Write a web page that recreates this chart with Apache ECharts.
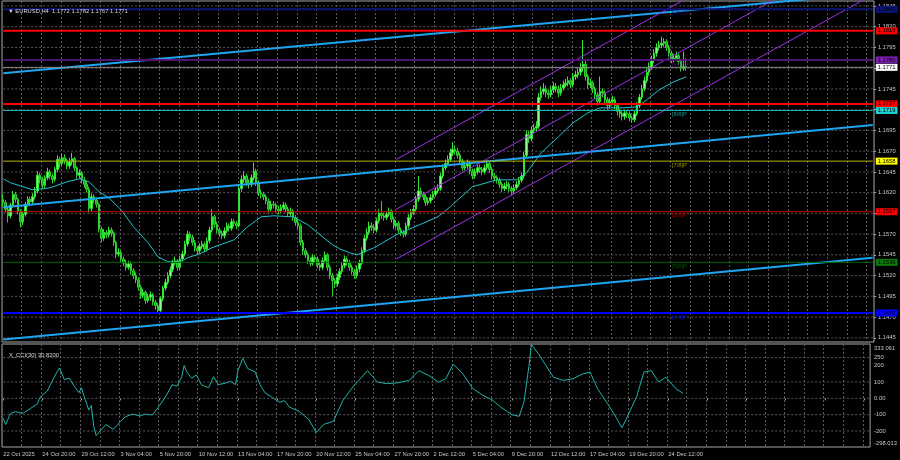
<!DOCTYPE html>
<html><head><meta charset="utf-8">
<script src="https://cdn.jsdelivr.net/npm/echarts@6/dist/echarts.min.js"></script>
<style>html,body{margin:0;padding:0;background:#000}#c{width:900px;height:460px}</style>
</head><body><div id="c"></div>
<script>
// ---------- DATA ----------
const chartTitle = '\u25BC EURUSD,H4  1.1772 1.1782 1.1767 1.1771';
const cciTitle = 'X_CCI(30) 30.8200';

const xTickLabels = ['22 Oct 2025','24 Oct 20:00','29 Oct 12:00','3 Nov 04:00','5 Nov 20:00','10 Nov 12:00',
  '13 Nov 04:00','17 Nov 20:00','20 Nov 12:00','25 Nov 04:00','27 Nov 20:00','2 Dec 12:00',
  '5 Dec 04:00','9 Dec 20:00','12 Dec 12:00','17 Dec 04:00','19 Dec 20:00','24 Dec 12:00'];
const barsPerLabel = 16;
const totalSlots = 355;

const priceTicks = [1.1445,1.1470,1.1495,1.1520,1.1545,1.1570,1.1595,1.1620,1.1645,1.1670,1.1695,1.1720,1.1745,1.1770,1.1795,1.1820,1.1845];
const cciTicks = [333.061,250,200,100,0,-100,-200,-298.013];
const cciGridLevels = [250,100,0,-100,-200];

const opens = [
1.1612,1.1608,1.1600,1.1592,1.1605,1.1618,1.1612,1.1598,1.1585,1.1594,
1.1606,1.1612,1.1609,1.1615,1.1622,1.1641,1.1636,1.1629,1.1638,1.1645,
1.1640,1.1636,1.1648,1.1660,1.1655,1.1662,1.1658,1.1652,1.1657,1.1661,
1.1650,1.1641,1.1644,1.1635,1.1630,1.1624,1.1601,1.1615,1.1611,1.1606,
1.1576,1.1565,1.1572,1.1569,1.1575,1.1571,1.1560,1.1546,1.1548,1.1540,
1.1535,1.1530,1.1534,1.1526,1.1520,1.1515,1.1506,1.1496,1.1500,1.1490,
1.1494,1.1497,1.1488,1.1484,1.1478,1.1492,1.1505,1.1512,1.1520,1.1527,
1.1535,1.1538,1.1530,1.1540,1.1546,1.1558,1.1570,1.1566,1.1560,1.1553,
1.1550,1.1555,1.1558,1.1552,1.1562,1.1575,1.1591,1.1582,1.1575,1.1571,
1.1568,1.1574,1.1580,1.1577,1.1585,1.1583,1.1580,1.1625,1.1636,1.1640,
1.1632,1.1630,1.1638,1.1646,1.1632,1.1620,1.1618,1.1615,1.1610,1.1600,
1.1606,1.1605,1.1600,1.1598,1.1602,1.1605,1.1600,1.1595,1.1598,1.1590,
1.1584,1.1580,1.1560,1.1550,1.1545,1.1538,1.1535,1.1542,1.1540,1.1533,
1.1530,1.1538,1.1545,1.1530,1.1520,1.1514,1.1510,1.1518,1.1525,1.1532,
1.1540,1.1536,1.1530,1.1525,1.1520,1.1528,1.1535,1.1550,1.1565,1.1572,
1.1580,1.1578,1.1575,1.1586,1.1595,1.1592,1.1590,1.1594,1.1598,1.1588,
1.1580,1.1583,1.1575,1.1572,1.1570,1.1580,1.1590,1.1596,1.1600,1.1612,
1.1622,1.1618,1.1615,1.1608,1.1610,1.1614,1.1618,1.1622,1.1625,1.1640,
1.1650,1.1655,1.1660,1.1668,1.1672,1.1670,1.1665,1.1658,1.1650,1.1652,
1.1655,1.1646,1.1640,1.1645,1.1650,1.1648,1.1645,1.1650,1.1655,1.1648,
1.1640,1.1638,1.1635,1.1630,1.1625,1.1628,1.1630,1.1625,1.1622,1.1626,
1.1630,1.1635,1.1640,1.1665,1.1690,1.1685,1.1695,1.1698,1.1700,1.1735,
1.1742,1.1745,1.1740,1.1738,1.1744,1.1748,1.1745,1.1740,1.1746,1.1750,
1.1752,1.1755,1.1750,1.1760,1.1762,1.1765,1.1770,1.1775,1.1760,1.1750,
1.1752,1.1745,1.1738,1.1730,1.1742,1.1740,1.1732,1.1725,1.1730,1.1732,
1.1725,1.1718,1.1715,1.1712,1.1716,1.1715,1.1710,1.1708,1.1715,1.1725,
1.1735,1.1745,1.1755,1.1765,1.1772,1.1780,1.1788,1.1795,1.1798,1.1800,
1.1802,1.1795,1.1788,1.1780,1.1782,1.1785,1.1778,1.1770,1.1772];

const closes = [
1.1608,1.1600,1.1592,1.1605,1.1618,1.1612,1.1598,1.1585,1.1594,1.1606,
1.1612,1.1609,1.1615,1.1622,1.1641,1.1636,1.1629,1.1638,1.1645,1.1640,
1.1636,1.1648,1.1660,1.1655,1.1662,1.1658,1.1652,1.1657,1.1661,1.1650,
1.1641,1.1644,1.1635,1.1630,1.1624,1.1601,1.1615,1.1611,1.1606,1.1576,
1.1565,1.1572,1.1569,1.1575,1.1571,1.1560,1.1546,1.1548,1.1540,1.1535,
1.1530,1.1534,1.1526,1.1520,1.1515,1.1506,1.1496,1.1500,1.1490,1.1494,
1.1497,1.1488,1.1484,1.1478,1.1492,1.1505,1.1512,1.1520,1.1527,1.1535,
1.1538,1.1530,1.1540,1.1546,1.1558,1.1570,1.1566,1.1560,1.1553,1.1550,
1.1555,1.1558,1.1552,1.1562,1.1575,1.1591,1.1582,1.1575,1.1571,1.1568,
1.1574,1.1580,1.1577,1.1585,1.1583,1.1580,1.1625,1.1636,1.1640,1.1632,
1.1630,1.1638,1.1646,1.1632,1.1620,1.1618,1.1615,1.1610,1.1600,1.1606,
1.1605,1.1600,1.1598,1.1602,1.1605,1.1600,1.1595,1.1598,1.1590,1.1584,
1.1580,1.1560,1.1550,1.1545,1.1538,1.1535,1.1542,1.1540,1.1533,1.1530,
1.1538,1.1545,1.1530,1.1520,1.1514,1.1510,1.1518,1.1525,1.1532,1.1540,
1.1536,1.1530,1.1525,1.1520,1.1528,1.1535,1.1550,1.1565,1.1572,1.1580,
1.1578,1.1575,1.1586,1.1595,1.1592,1.1590,1.1594,1.1598,1.1588,1.1580,
1.1583,1.1575,1.1572,1.1570,1.1580,1.1590,1.1596,1.1600,1.1612,1.1622,
1.1618,1.1615,1.1608,1.1610,1.1614,1.1618,1.1622,1.1625,1.1640,1.1650,
1.1655,1.1660,1.1668,1.1672,1.1670,1.1665,1.1658,1.1650,1.1652,1.1655,
1.1646,1.1640,1.1645,1.1650,1.1648,1.1645,1.1650,1.1655,1.1648,1.1640,
1.1638,1.1635,1.1630,1.1625,1.1628,1.1630,1.1625,1.1622,1.1626,1.1630,
1.1635,1.1640,1.1665,1.1690,1.1685,1.1695,1.1698,1.1700,1.1735,1.1742,
1.1745,1.1740,1.1738,1.1744,1.1748,1.1745,1.1740,1.1746,1.1750,1.1752,
1.1755,1.1750,1.1760,1.1762,1.1765,1.1770,1.1775,1.1760,1.1750,1.1752,
1.1745,1.1738,1.1730,1.1742,1.1740,1.1732,1.1725,1.1730,1.1732,1.1725,
1.1718,1.1715,1.1712,1.1716,1.1715,1.1710,1.1708,1.1715,1.1725,1.1735,
1.1745,1.1755,1.1765,1.1772,1.1780,1.1788,1.1795,1.1798,1.1800,1.1802,
1.1795,1.1788,1.1780,1.1782,1.1785,1.1778,1.1770,1.1772,1.1771];

const highs = [
1.1618,1.1611,1.1603,1.1608,1.1622,1.1621,1.1614,1.1600,1.1597,1.1609,
1.1616,1.1615,1.1619,1.1627,1.1646,1.1644,1.1639,1.1641,1.1650,1.1648,
1.1643,1.1651,1.1665,1.1663,1.1667,1.1666,1.1661,1.1662,1.1668,1.1663,
1.1652,1.1648,1.1646,1.1639,1.1634,1.1627,1.1619,1.1618,1.1614,1.1608,
1.1579,1.1576,1.1575,1.1579,1.1578,1.1573,1.1562,1.1553,1.1551,1.1543,
1.1539,1.1538,1.1537,1.1529,1.1524,1.1518,1.1509,1.1504,1.1502,1.1498,
1.1501,1.1499,1.1491,1.1487,1.1495,1.1508,1.1516,1.1524,1.1531,1.1539,
1.1543,1.1540,1.1544,1.1550,1.1562,1.1574,1.1573,1.1569,1.1563,1.1556,
1.1559,1.1562,1.1561,1.1566,1.1579,1.1600,1.1594,1.1585,1.1578,1.1574,
1.1578,1.1584,1.1583,1.1589,1.1588,1.1586,1.1629,1.1641,1.1646,1.1643,
1.1636,1.1642,1.1656,1.1649,1.1635,1.1624,1.1621,1.1618,1.1613,1.1610,
1.1610,1.1608,1.1604,1.1606,1.1609,1.1608,1.1603,1.1602,1.1600,1.1593,
1.1588,1.1583,1.1563,1.1553,1.1548,1.1542,1.1546,1.1545,1.1543,1.1537,
1.1542,1.1549,1.1547,1.1533,1.1523,1.1517,1.1522,1.1529,1.1536,1.1544,
1.1543,1.1539,1.1533,1.1528,1.1532,1.1539,1.1554,1.1569,1.1577,1.1585,
1.1584,1.1582,1.1590,1.1600,1.1610,1.1596,1.1598,1.1602,1.1600,1.1591,
1.1587,1.1586,1.1578,1.1575,1.1584,1.1594,1.1600,1.1605,1.1616,1.1640,
1.1626,1.1621,1.1618,1.1614,1.1618,1.1622,1.1626,1.1630,1.1644,1.1654,
1.1660,1.1665,1.1673,1.1681,1.1677,1.1674,1.1668,1.1661,1.1657,1.1660,
1.1658,1.1649,1.1649,1.1654,1.1654,1.1651,1.1654,1.1659,1.1658,1.1651,
1.1644,1.1641,1.1638,1.1633,1.1632,1.1634,1.1633,1.1628,1.1630,1.1634,
1.1639,1.1644,1.1669,1.1695,1.1694,1.1700,1.1703,1.1706,1.1740,1.1748,
1.1752,1.1749,1.1744,1.1749,1.1753,1.1752,1.1749,1.1751,1.1755,1.1757,
1.1760,1.1758,1.1764,1.1767,1.1770,1.1776,1.1804,1.1779,1.1763,1.1757,
1.1755,1.1748,1.1741,1.1760,1.1746,1.1743,1.1735,1.1734,1.1737,1.1735,
1.1728,1.1721,1.1718,1.1720,1.1720,1.1718,1.1713,1.1719,1.1729,1.1739,
1.1750,1.1760,1.1770,1.1777,1.1785,1.1793,1.1800,1.1803,1.1808,1.1806,
1.1805,1.1798,1.1791,1.1787,1.1790,1.1788,1.1781,1.1790,1.1782];

const lows = [
1.1603,1.1596,1.1584,1.1589,1.1602,1.1608,1.1594,1.1578,1.1581,1.1591,
1.1603,1.1604,1.1606,1.1612,1.1619,1.1631,1.1625,1.1626,1.1635,1.1636,
1.1631,1.1633,1.1645,1.1650,1.1652,1.1654,1.1648,1.1649,1.1653,1.1646,
1.1637,1.1637,1.1631,1.1626,1.1620,1.1596,1.1598,1.1607,1.1602,1.1572,
1.1560,1.1562,1.1565,1.1566,1.1567,1.1556,1.1541,1.1543,1.1536,1.1531,
1.1526,1.1527,1.1521,1.1516,1.1511,1.1502,1.1492,1.1493,1.1486,1.1487,
1.1490,1.1484,1.1479,1.1474,1.1476,1.1489,1.1502,1.1509,1.1517,1.1524,
1.1532,1.1526,1.1527,1.1537,1.1543,1.1555,1.1562,1.1556,1.1549,1.1546,
1.1547,1.1552,1.1548,1.1549,1.1559,1.1572,1.1578,1.1571,1.1567,1.1564,
1.1565,1.1571,1.1573,1.1574,1.1579,1.1576,1.1578,1.1621,1.1632,1.1628,
1.1625,1.1627,1.1635,1.1628,1.1616,1.1613,1.1611,1.1606,1.1596,1.1597,
1.1601,1.1596,1.1594,1.1595,1.1599,1.1596,1.1591,1.1592,1.1586,1.1580,
1.1576,1.1556,1.1545,1.1541,1.1534,1.1531,1.1532,1.1536,1.1529,1.1526,
1.1527,1.1535,1.1526,1.1516,1.1495,1.1505,1.1507,1.1515,1.1522,1.1529,
1.1532,1.1526,1.1521,1.1516,1.1517,1.1524,1.1532,1.1547,1.1562,1.1569,
1.1574,1.1571,1.1572,1.1583,1.1588,1.1586,1.1587,1.1591,1.1584,1.1576,
1.1577,1.1571,1.1568,1.1566,1.1567,1.1577,1.1587,1.1593,1.1597,1.1609,
1.1614,1.1611,1.1604,1.1605,1.1607,1.1611,1.1615,1.1619,1.1622,1.1637,
1.1647,1.1652,1.1657,1.1664,1.1666,1.1661,1.1654,1.1646,1.1647,1.1649,
1.1642,1.1636,1.1637,1.1642,1.1644,1.1641,1.1642,1.1647,1.1644,1.1636,
1.1634,1.1631,1.1626,1.1621,1.1622,1.1624,1.1621,1.1617,1.1619,1.1623,
1.1627,1.1632,1.1637,1.1662,1.1680,1.1682,1.1691,1.1694,1.1697,1.1731,
1.1738,1.1735,1.1733,1.1735,1.1740,1.1741,1.1735,1.1737,1.1743,1.1747,
1.1748,1.1746,1.1747,1.1756,1.1758,1.1761,1.1766,1.1755,1.1745,1.1746,
1.1740,1.1733,1.1725,1.1727,1.1735,1.1727,1.1720,1.1721,1.1726,1.1720,
1.1713,1.1710,1.1707,1.1708,1.1710,1.1706,1.1704,1.1705,1.1712,1.1722,
1.1732,1.1742,1.1752,1.1761,1.1768,1.1776,1.1784,1.1791,1.1794,1.1796,
1.1791,1.1784,1.1776,1.1777,1.1779,1.1774,1.1766,1.1767,1.1767];

// moving average: [bar index, price]
const maPoints = [[0,1.16367],[3,1.16319],[12,1.16234],[19,1.16258],[26,1.16331],[31,1.16367],[35,1.16331],
 [39,1.16210],[43,1.16138],[48,1.15993],[53,1.15789],[59,1.15596],[63,1.15427],[67,1.15367],[72,1.15367],
 [75,1.15415],[80,1.15463],[85,1.15536],[94,1.15632],[99,1.15777],[105,1.15909],[110,1.15921],[118,1.15909],
 [124,1.15813],[129,1.15692],[134,1.15572],[137,1.15523],[141,1.15475],[144,1.15451],[151,1.15536],
 [160,1.15692],[177,1.15909],[182,1.16030],[191,1.16271],[201,1.16355],[209,1.16355],[213,1.16439],
 [219,1.16680],[226,1.16873],[232,1.17042],[238,1.17162],[243,1.17222],[252,1.17222],[258,1.17234],
 [262,1.17319],[267,1.17439],[273,1.17536],[278,1.17596]];

// CCI(30): [bar index, value]
const cciPoints = [[0,-122],[1,-160],[3,-92],[5,-82],[8,-92],[11,-63],[14,-33],[15,6],[18,45],[20,104],
 [22,163],[23,186],[25,114],[27,124],[29,75],[31,35],[32,65],[33,16],[35,-72],[36,-43],[37,-171],[38,-229],
 [39,-210],[42,-160],[45,-190],[48,-141],[50,-112],[53,-96],[56,-108],[58,-96],[61,-102],[64,-43],[67,25],
 [69,84],[71,75],[73,133],[74,202],[75,163],[77,124],[79,143],[81,84],[84,65],[86,133],[88,84],[91,94],
 [93,104],[95,84],[96,172],[98,245],[100,182],[103,163],[105,84],[107,35],[110,6],[113,-24],[115,-14],
 [117,-53],[121,-80],[125,-130],[128,-210],[131,-160],[135,-140],[139,-10],[143,70],[146,120],[149,170],
 [153,100],[157,90],[161,95],[166,110],[170,170],[174,140],[178,100],[181,120],[184,210],[188,150],
 [192,60],[196,20],[200,-10],[204,-60],[208,-100],[211,-110],[213,-20],[215,200],[216,330],[219,270],
 [222,200],[225,130],[229,110],[233,120],[237,150],[240,160],[243,60],[247,-30],[250,-100],[253,-180],
 [255,-120],[259,10],[262,160],[265,170],[268,100],[271,130],[275,60],[278,31]];

// trend lines and regression channel: [bar index, price]
const trendTop = [[0,1.17639],[354,1.18603]];
const trendMid = [[0,1.16025],[354,1.17016]];
const trendLow = [[0,1.14431],[354,1.15415]];
const channelUp = [[160,1.1660],[354,1.19786]];
const channelMid = [[160,1.1600],[354,1.19186]];
const channelDn = [[160,1.1540],[354,1.18586]];

// horizontal levels
const levelPrices = [1.1841,1.1815,1.1780,1.1771,1.1727,1.1719,1.1658,1.1597,1.1536,1.1475];
const murrayNames = {'1.1841':'[+2/8]P','1.178':'[+1/8]P','1.1719':'[8/8]P','1.1658':'[7/8]P','1.1597':'[6/8]P','1.1536':'[5/8]P','1.1475':'[4/8]P'};
const murrayLabelBar = 273;
const firstSlot = 0, lastSlot = 354;

// ---------- STYLES ----------
const FONT = 'Liberation Sans';
const FS = 5.8;
const TXT = '#c8c8c8';
const GRIDC = '#5a5a5a';
const levelStyle = {
  '1.1841':{c:'#0c1478',w:2}, '1.1815':{c:'#ff0000',w:2}, '1.178':{c:'#4e1472',w:2,box:'#7a1fb0'},
  '1.1771':{c:'#8c8c8c',w:1,box:'#ffffff'}, '1.1727':{c:'#ff0000',w:2}, '1.1719':{c:'#20b2aa',w:1,box:'#20d0d0'},
  '1.1658':{c:'#b4b400',w:1,box:'#ffff00'}, '1.1597':{c:'#c80000',w:1,box:'#ff0000'}, '1.1536':{c:'#006400',w:1,box:'#0a7a0a'},
  '1.1475':{c:'#0000ff',w:2}
};

// ---------- BUILD ----------
const categories = [];
for (let i = 0; i < totalSlots; i++) categories.push('');
xTickLabels.forEach((t, k) => { categories[k * barsPerLabel] = t; });

const candles = opens.map((o, i) => [o, closes[i], lows[i], highs[i]]);

function hSeries(p, color, width, dash, xi, yi, z) {
  return {type: 'line', xAxisIndex: xi, yAxisIndex: yi, data: [[firstSlot, p], [lastSlot, p]], symbol: 'none',
    silent: true, z: z, lineStyle: {color: color, width: width, type: dash}, animation: false};
}

const gridSeries = priceTicks.map(p => hSeries(p, GRIDC, 1, [2, 2], 0, 0, 1));
const cciGridSeries = cciGridLevels.map(v => hSeries(v, GRIDC, 1, [2, 2], 1, 1, 1));

const levelSeries = levelPrices.map(p => {
  const s = levelStyle[String(p)];
  const ser = hSeries(p, s.c, s.w, 'solid', 0, 0, 5);
  ser.endLabel = {show: true, formatter: p.toFixed(4), color: '#000', distance: 3,
    backgroundColor: s.box || s.c, padding: [1, 2, 0, 2], fontSize: FS, fontFamily: FONT};
  return ser;
});

const murrayData = levelPrices.filter(p => murrayNames[String(p)]).map(p => ({
  value: [murrayLabelBar, p],
  label: {formatter: murrayNames[String(p)], color: levelStyle[String(p)].c}
}));

function tline(data, color, width) {
  return {type: 'line', xAxisIndex: 0, yAxisIndex: 0, data: data, symbol: 'none', silent: true,
    lineStyle: {color: color, width: width}, z: 4, clip: true, animation: false};
}

const cciMax = cciTicks[0], cciMin = cciTicks[cciTicks.length - 1];

const option = {
  backgroundColor: '#000',
  animation: false,
  title: [
    {text: chartTitle, left: 3, top: 3, textStyle: {fontSize: FS, color: '#d8d8d8', fontWeight: 'normal', fontFamily: FONT}},
    {text: cciTitle, left: 4, top: 347, textStyle: {fontSize: FS, color: '#d8d8d8', fontWeight: 'normal', fontFamily: FONT}}
  ],
  grid: [
    {left: 2, right: 26, top: 1, height: 341, show: true, borderColor: '#a8a8a8', borderWidth: 1, backgroundColor: '#000'},
    {left: 2, right: 26, top: 344, height: 103, show: true, borderColor: '#a8a8a8', borderWidth: 1, backgroundColor: '#000'}
  ],
  xAxis: [
    {type: 'category', gridIndex: 0, data: categories, boundaryGap: true,
      axisLine: {show: false}, axisTick: {show: false}, axisLabel: {show: false},
      splitLine: {show: true, interval: 7, lineStyle: {color: GRIDC, type: [2, 2], width: 1}}},
    {type: 'category', gridIndex: 1, data: categories, boundaryGap: true,
      axisLine: {show: false},
      axisTick: {show: true, interval: 15, alignWithLabel: true, length: 2, lineStyle: {color: '#a8a8a8'}},
      axisLabel: {show: true, interval: 15, align: 'left', fontSize: FS, color: TXT, fontFamily: FONT, margin: 4},
      splitLine: {show: true, interval: 7, lineStyle: {color: GRIDC, type: [2, 2], width: 1}}}
  ],
  yAxis: [
    {type: 'value', gridIndex: 0, position: 'right', min: 1.1440, max: 1.1851,
      axisLine: {show: false}, splitLine: {show: false},
      axisTick: {show: true, customValues: priceTicks, length: 2, lineStyle: {color: '#a8a8a8'}},
      axisLabel: {customValues: priceTicks, formatter: v => v.toFixed(4), fontSize: FS, color: TXT, fontFamily: FONT, margin: 4}},
    {type: 'value', gridIndex: 1, position: 'right', min: cciMin, max: cciMax,
      axisLine: {show: false}, splitLine: {show: false},
      axisTick: {show: false},
      axisLabel: {customValues: cciTicks, fontSize: FS, color: TXT, fontFamily: FONT, margin: 4,
        rich: {t: {fontSize: FS, fontFamily: FONT, color: TXT, padding: [9, 0, 0, 0]},
               b: {fontSize: FS, fontFamily: FONT, color: TXT, padding: [0, 0, 7, 0]}},
        formatter: v => (v === 0 ? '0.00' : (v === cciMax ? '{t|' + v.toFixed(3) + '}' :
          (v === cciMin ? '{b|' + v.toFixed(3) + '}' : String(v))))}}
  ],
  series: [].concat(
    gridSeries,
    cciGridSeries,
    [
      {type: 'candlestick', name: 'EURUSD', xAxisIndex: 0, yAxisIndex: 0, data: candles, barWidth: 2, z: 3,
        itemStyle: {color: '#8cff8c', color0: '#1f9f1f', borderColor: '#33e633', borderColor0: '#2fd02f', borderWidth: 1}},
      {type: 'line', name: 'MA', xAxisIndex: 0, yAxisIndex: 0, data: maPoints, symbol: 'none', z: 4,
        lineStyle: {color: '#22c4cc', width: 1}},
      tline(trendTop, '#1ea4f0', 2),
      tline(trendMid, '#1ea4f0', 2),
      tline(trendLow, '#1ea4f0', 2),
      tline(channelUp, '#9b32e6', 1),
      tline(channelMid, '#9b32e6', 1),
      tline(channelDn, '#9b32e6', 1)
    ],
    levelSeries,
    [
      {type: 'scatter', name: 'murray', xAxisIndex: 0, yAxisIndex: 0, data: murrayData, symbolSize: 0, silent: true, z: 6,
        label: {show: true, position: 'right', distance: 0, offset: [-2, 4], fontSize: FS, fontFamily: FONT}},
      {type: 'line', name: 'CCI', xAxisIndex: 1, yAxisIndex: 1, data: cciPoints, symbol: 'none', z: 3,
        lineStyle: {color: '#20b2aa', width: 1}}
    ]
  )
};

const chart = echarts.init(document.getElementById('c'), null, {renderer: 'canvas'});
chart.setOption(option);
</script>
</body></html>
